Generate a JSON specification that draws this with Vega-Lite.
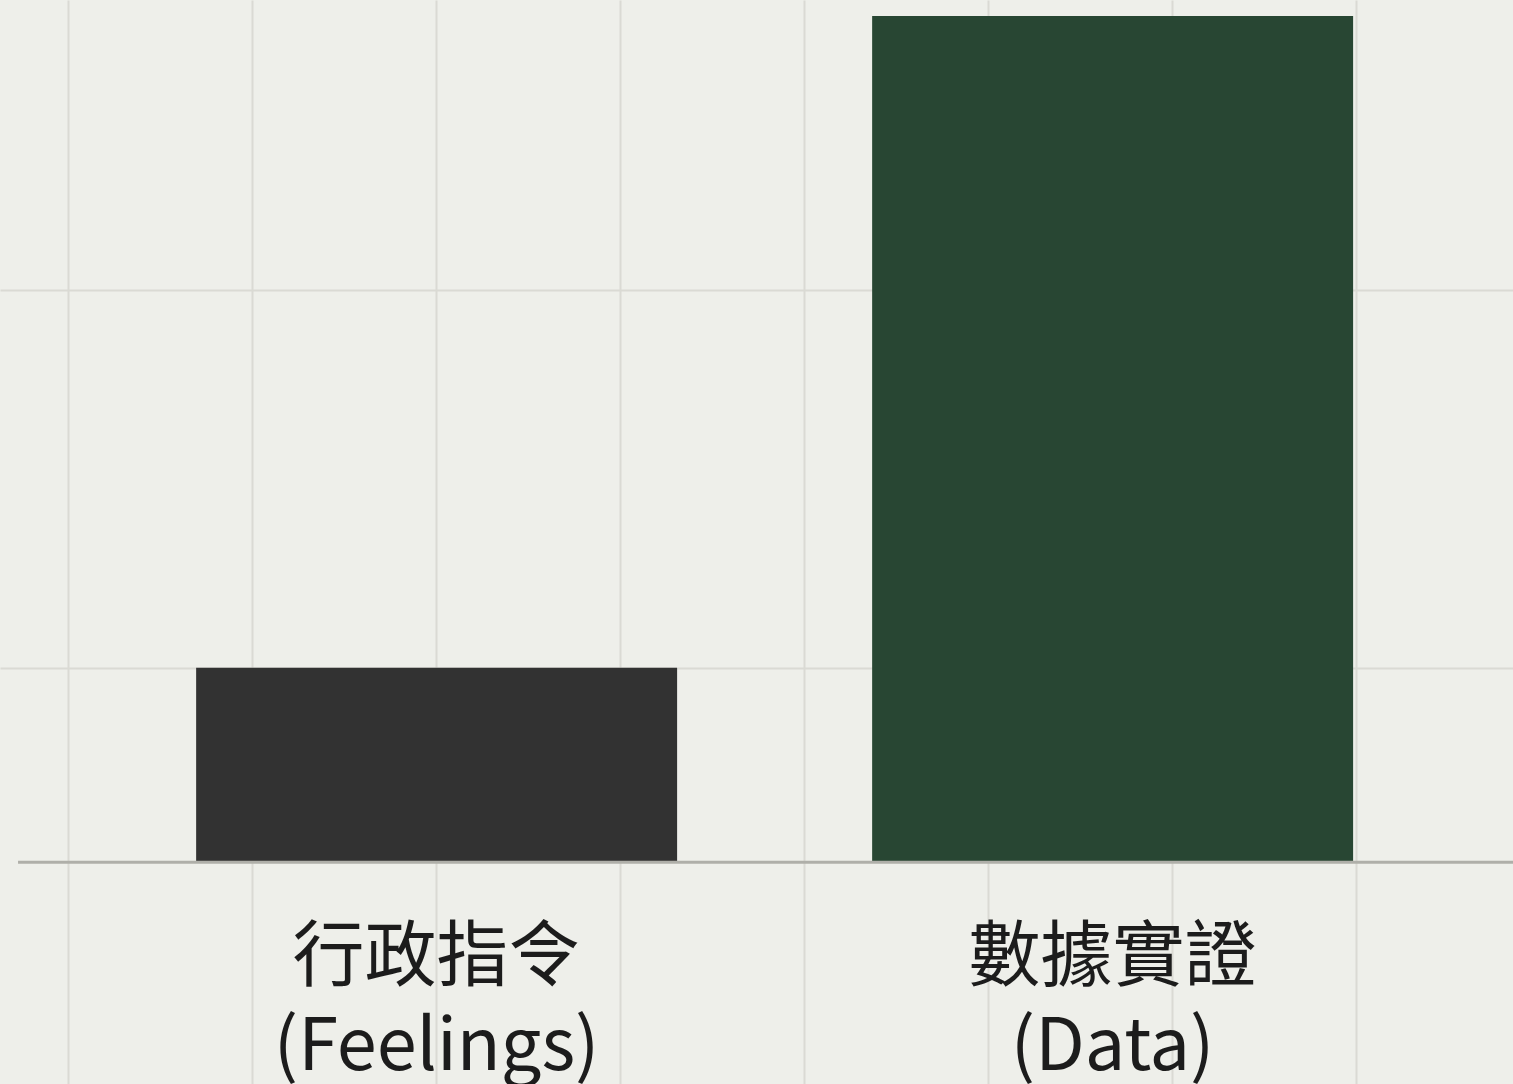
{
  "$schema": "https://vega.github.io/schema/vega-lite/v6.json",
  "width": 1513,
  "height": 1084,
  "autosize": {"type": "fit", "contains": "padding"},
  "padding": 0,
  "background": "#eeefea",
  "config": {
    "view": {"stroke": null},
    "axis": {"grid": true, "domain": false, "ticks": false, "labels": false, "gridColor": "#dadad4", "gridWidth": 2}
  },
  "datasets": {
    "bars": [
      {"category": "行政指令 (Feelings)", "label": "行政指令\n(Feelings)", "start": 0.696, "end": 3.31, "mid": 2.003, "value": 23, "color": "#323232"},
      {"category": "數據實證 (Data)", "label": "數據實證\n(Data)", "start": 4.37, "end": 6.984, "mid": 5.677, "value": 100, "color": "#284633"}
    ],
    "baseline": [{"from": -0.272, "to": 7.853, "level": 0}]
  },
  "layer": [
    {
      "data": {"name": "bars"},
      "mark": {"type": "bar"},
      "encoding": {
        "x": {"field": "start", "type": "quantitative", "title": null,
              "scale": {"domain": [-0.37, 7.853], "nice": false, "zero": false},
              "axis": {"values": [0, 1, 2, 3, 4, 5, 6, 7]}},
        "x2": {"field": "end"},
        "y": {"field": "value", "type": "quantitative", "title": null,
              "scale": {"domain": [-26.2, 101.9], "nice": false, "zero": false},
              "axis": {"values": [23, 67.6]}},
        "y2": {"datum": 0},
        "color": {"field": "color", "type": "nominal", "scale": null, "legend": null}
      }
    },
    {
      "data": {"name": "baseline"},
      "mark": {"type": "rule", "color": "#afafa9", "strokeWidth": 3, "clip": true},
      "encoding": {
        "x": {"field": "from", "type": "quantitative"},
        "x2": {"field": "to"},
        "y": {"field": "level", "type": "quantitative"}
      }
    },
    {
      "data": {"name": "bars"},
      "mark": {"type": "text", "lineBreak": "\n", "fontSize": 72, "font": "Noto Sans CJK TC", "align": "center", "baseline": "alphabetic", "lineHeight": 90, "color": "#1c1c1c", "clip": true},
      "encoding": {
        "x": {"field": "mid", "type": "quantitative"},
        "y": {"datum": -13.95},
        "text": {"field": "label"}
      }
    }
  ]
}
